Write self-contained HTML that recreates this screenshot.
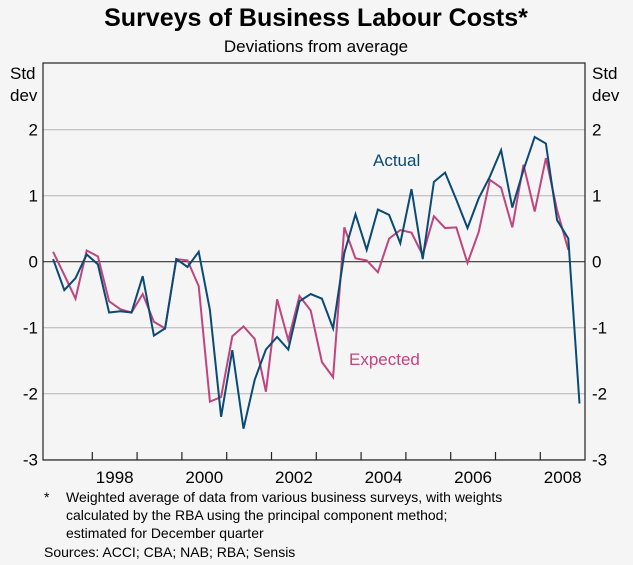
<!DOCTYPE html>
<html><head><meta charset="utf-8"><style>
body{margin:0;background:#f5f5f5;font-family:"Liberation Sans",sans-serif;}
svg{display:block}
</style></head><body>
<svg width="633" height="565" viewBox="0 0 633 565" id="chart">
<rect width="633" height="565" fill="#f5f5f5"/>
<text x="316" y="26" text-anchor="middle" font-size="25" font-weight="bold" fill="#000">Surveys of Business Labour Costs*</text>
<text x="316" y="52" text-anchor="middle" font-size="17" fill="#000">Deviations from average</text>
<text x="10" y="79" font-size="17">Std</text>
<text x="10" y="101" font-size="17">dev</text>
<text x="592" y="79" font-size="17">Std</text>
<text x="592" y="101" font-size="17">dev</text>
<g id="grid"></g>
<g id="series"></g>
<rect x="43" y="63" width="542" height="397" fill="none" stroke="#222" stroke-width="1.2"/>
<text x="373" y="166" font-size="17" fill="#0a4a75">Actual</text>
<text x="349" y="365" font-size="17" fill="#c0457e">Expected</text>
<g font-size="14" fill="#000">
<text x="44" y="502">*</text>
<text x="66" y="502">Weighted average of data from various business surveys, with weights</text>
<text x="66" y="520">calculated by the RBA using the principal component method;</text>
<text x="66" y="538">estimated for December quarter</text>
<text x="44" y="557">Sources: ACCI; CBA; NAB; RBA; Sensis</text>
</g>
</svg>
<script>
const yTicks = [2, 1, 0, -1, -2, -3];
const xYearLabels = [1998, 2000, 2002, 2004, 2006, 2008];
const startYear = 1997;
const actual = [0.04,-0.43,-0.25,0.11,-0.04,-0.77,-0.75,-0.77,-0.22,-1.12,-1.01,0.04,-0.08,0.15,-0.73,-2.35,-1.34,-2.53,-1.79,-1.33,-1.14,-1.33,-0.6,-0.49,-0.56,-1.01,0.13,0.72,0.18,0.79,0.71,0.28,1.10,0.04,1.21,1.35,0.94,0.51,0.96,1.29,1.69,0.82,1.39,1.89,1.79,0.63,0.35,-2.15];
const expected = [0.15,-0.2,-0.56,0.17,0.08,-0.6,-0.72,-0.77,-0.49,-0.91,-1.01,0.04,0.02,-0.37,-2.12,-2.05,-1.13,-0.98,-1.17,-1.97,-0.57,-1.19,-0.52,-0.74,-1.52,-1.75,0.52,0.05,0.02,-0.16,0.35,0.48,0.44,0.1,0.69,0.51,0.52,-0.02,0.45,1.24,1.12,0.52,1.47,0.76,1.57,0.78,0.18];

const NS="http://www.w3.org/2000/svg";
const yPx = v => 261.7 - v*66;
const yearX = y => 92.3 + (y-1998)*44.8;
const qX = i => yearX(startYear) + 5.6 + i*11.2;
const grid=document.getElementById('grid'), ser=document.getElementById('series');
function mk(tag,attrs,parent){const e=document.createElementNS(NS,tag);for(const k in attrs)e.setAttribute(k,attrs[k]);parent.appendChild(e);return e;}
yTicks.forEach(v=>{
  const y=yPx(v);
  const l=mk('line',{x1:43,x2:585,y1:y,y2:y,stroke:v===0?'#333':'#b5b5b5','stroke-width':v===0?1.2:1},grid);
  
  
  const t1=mk('text',{x:38,y:y+6,'text-anchor':'end','font-size':17},grid);
  t1.textContent=v;
  
  
  const t2=mk('text',{x:592,y:y+6,'font-size':17},grid);
  t2.textContent=v;
  
  
});
for(let yr=1998; yr<=2008; yr++){
  const x=yearX(yr);
  const t=mk('line',{x1:x,x2:x,y1:452,y2:460,stroke:'#222','stroke-width':1.2},grid);
  
  
}
xYearLabels.forEach(yr=>{
  const t=mk('text',{x:yearX(yr)+22.4,y:483,'text-anchor':'middle','font-size':17},grid);
  t.textContent=yr;
  
  
});
function line(data,color,name){
  const p=mk('polyline',{points:data.map((v,i)=>qX(i)+','+yPx(v)).join(' '),fill:'none',stroke:color,'stroke-width':2,'stroke-linejoin':'miter'},ser);
  
  
}
line(expected,'#c0457e','expected-line');
line(actual,'#0a4a75','actual-line');
</script>
</body></html>
